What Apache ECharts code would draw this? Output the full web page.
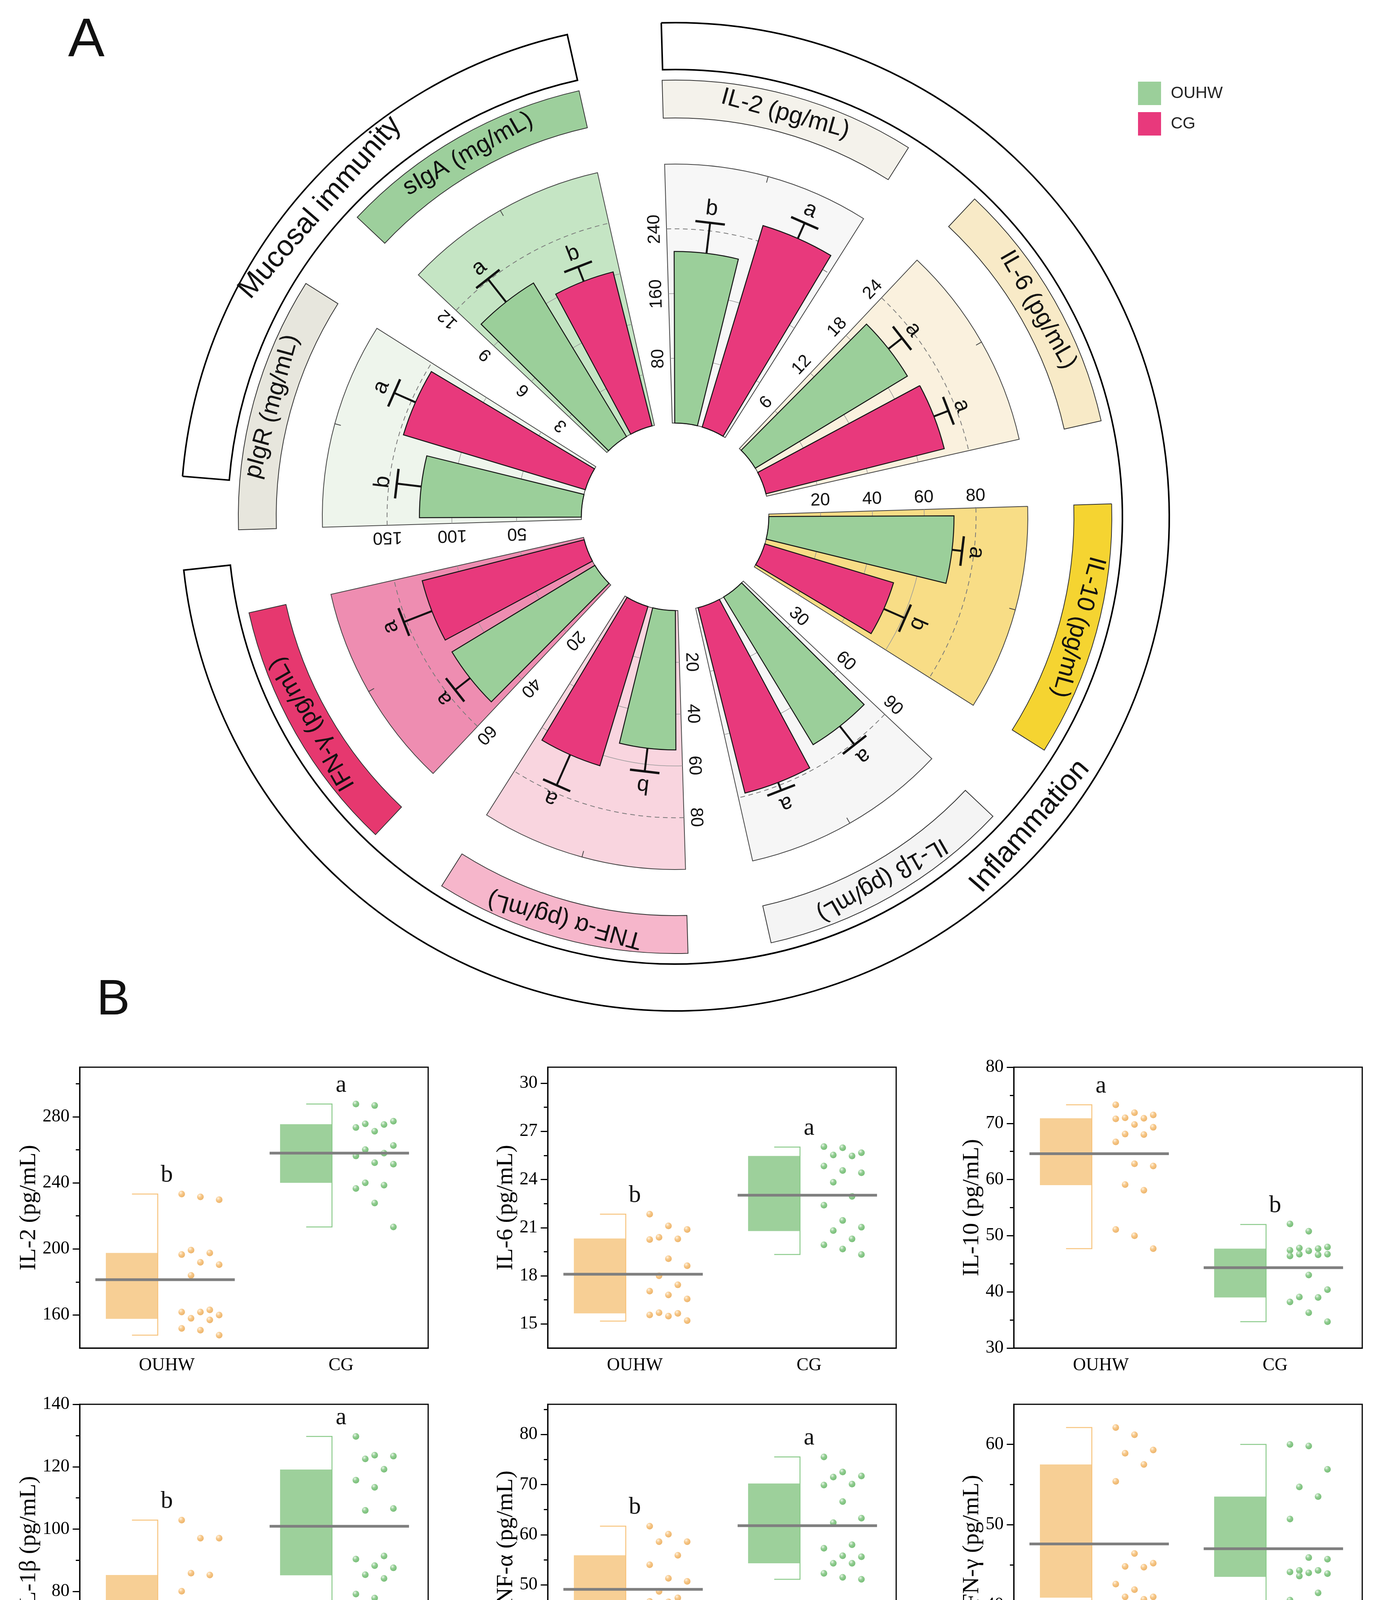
<!DOCTYPE html>
<html>
<head>
<meta charset="utf-8">
<title>Mucosal immunity and inflammation markers</title>
<script src="https://cdn.jsdelivr.net/npm/echarts@6.0.0/dist/echarts.min.js"></script>
<style>
  html, body { margin: 0; padding: 0; background: #fff; }
  #main { width: 3535px; height: 4415px; }
</style>
</head>
<body>
<div id="main"></div>
<script>
// ---------- panel A data (one sector per marker, clockwise from 12 o'clock)
var sectorNames = ['IL-2 (pg/mL)', 'IL-6 (pg/mL)', 'IL-10 (pg/mL)', 'IL-1β (pg/mL)',
                   'TNF-α (pg/mL)', 'IFN-γ (pg/mL)', 'pIgR (mg/mL)', 'sIgA (mg/mL)'];
var sectorMax  = [320, 30, 100, 120, 100, 80, 200, 15];
var sectorStep = [80, 6, 20, 30, 20, 20, 50, 3];
var meanOUHW = [212, 20.6, 71.5, 80.0, 53.8, 51.6, 125, 10.4];
var errOUHW  = [38, 2.0, 3.9, 11.0, 9.0, 5.9, 19, 1.7];
var meanCG   = [260, 21.3, 51.9, 88.6, 64.2, 51.6, 146.7, 9.2];
var errCG    = [21, 1.8, 8.9, 3.9, 12.9, 9.3, 18, 0.9];
var letterOUHW = ['b', 'a', 'a', 'a', 'b', 'a', 'b', 'a'];
var letterCG   = ['a', 'a', 'b', 'a', 'a', 'a', 'a', 'b'];
var groupNames = ['Inflammation', 'Mucosal immunity'];

// ---------- panel B data
var panelNames = ['IL-2 (pg/mL)', 'IL-6 (pg/mL)', 'IL-10 (pg/mL)', 'IL-1β (pg/mL)', 'TNF-α (pg/mL)', 'IFN-γ (pg/mL)'];
var groupsB = ['OUHW', 'CG'];
var panelMin = [140, 13.5, 30, 50, 30, 30];
var panelMax = [310, 31, 80, 140, 86, 65];
var majorTicks = [[160, 200, 240, 280], [15, 18, 21, 24, 27, 30], [30, 40, 50, 60, 70, 80],
                  [60, 80, 100, 120, 140], [30, 40, 50, 60, 70, 80], [30, 40, 50, 60]];
var minorTicks = [[180, 220, 260, 300], [16.5, 19.5, 22.5, 25.5, 28.5], [35, 45, 55, 65, 75],
                  [70, 90, 110, 130], [35, 45, 55, 65, 75, 85], [35, 45, 55]];

var boxLowOUHW    = [157.7, 15.66, 59.0, 64.2, 43.3, 40.9];
var boxHighOUHW   = [197.6, 20.33, 70.9, 85.3, 55.9, 57.5];
var whiskLowOUHW  = [147.8, 15.18, 47.7, 57.2, 35.1, 36.0];
var whiskHighOUHW = [233.2, 21.84, 73.3, 102.9, 61.7, 62.1];
var centerOUHW    = [181.4, 18.10, 64.6, 74.2, 49.1, 47.6];
var boxLowCG      = [240.0, 20.79, 39.0, 85.2, 54.3, 43.5];
var boxHighCG     = [275.5, 25.47, 47.7, 119.1, 70.2, 53.5];
var whiskLowCG    = [213.3, 19.33, 34.7, 71.8, 51.1, 36.0];
var whiskHighCG   = [287.7, 26.02, 52.0, 129.7, 75.5, 60.0];
var centerCG      = [258.0, 23.02, 44.3, 100.9, 61.8, 47.0];
var sigOUHW = ['b', 'b', 'a', 'b', 'b', ''];
var sigCG   = ['a', 'a', 'b', 'a', 'a', ''];

var il2OUHW  = [229.8, 233.2, 231.5, 199.3, 196.6, 197.6, 190.5, 191.9, 184.0, 161.8, 163.1, 161.8, 160.0, 158.0, 157.0, 151.9, 150.8, 147.8];
var il2CG    = [286.8, 287.7, 277.3, 275.7, 273.5, 271.2, 275.3, 262.6, 260.1, 258.0, 256.3, 252.2, 251.3, 238.6, 240.0, 236.6, 227.8, 213.3];
var il6OUHW  = [21.84, 20.89, 21.11, 20.40, 20.26, 20.30, 19.07, 18.63, 18.00, 17.44, 17.05, 16.81, 16.56, 15.56, 15.49, 15.70, 15.66, 15.21];
var il6CG    = [25.98, 26.05, 25.47, 25.53, 25.67, 24.84, 24.56, 24.42, 23.83, 22.95, 22.40, 21.45, 21.03, 20.82, 20.30, 19.93, 19.67, 19.33];
var il10OUHW = [73.3, 70.8, 71.0, 71.5, 71.9, 70.9, 69.8, 69.3, 68.1, 68.0, 66.7, 62.8, 62.4, 59.1, 58.1, 51.1, 50.0, 47.7];
var il10CG   = [52.1, 50.8, 47.8, 48.0, 47.7, 47.4, 47.3, 46.7, 46.6, 46.4, 46.7, 43.0, 40.4, 39.1, 39.0, 38.2, 36.3, 34.7];
var il1bOUHW = [102.9, 97.1, 97.1, 85.9, 85.3, 80.1, 74.2, 72.8, 72.0, 68.8, 68.1, 65.5, 64.2, 65.3, 63.7, 58.2, 57.2, 57.4];
var il1bCG   = [129.7, 123.7, 123.4, 122.5, 119.2, 115.7, 113.4, 106.0, 106.6, 91.4, 90.4, 87.6, 88.3, 85.4, 84.2, 79.2, 77.9, 71.8];
var tnfOUHW  = [61.7, 60.1, 58.6, 58.6, 55.9, 54.0, 51.3, 50.7, 48.7, 47.4, 46.6, 46.7, 44.4, 43.4, 43.1, 40.7, 37.6, 35.1];
var tnfCG    = [75.5, 72.5, 71.7, 71.5, 69.9, 70.1, 66.6, 63.3, 62.4, 58.0, 57.3, 55.8, 55.6, 54.3, 54.3, 52.3, 51.1, 51.5];
var ifnOUHW  = [62.1, 61.2, 59.3, 58.9, 57.5, 55.4, 46.4, 45.2, 44.7, 44.8, 42.6, 41.9, 40.7, 41.0, 41.0, 39.1, 39.0, 36.0];
var ifnCG    = [60.0, 59.8, 56.9, 54.7, 53.5, 50.7, 45.7, 45.9, 44.3, 44.3, 43.6, 44.0, 43.9, 44.1, 41.5, 40.6, 37.1, 36.0];
var pointsOUHW = [il2OUHW, il6OUHW, il10OUHW, il1bOUHW, tnfOUHW, ifnOUHW];
var pointsCG   = [il2CG, il6CG, il10CG, il1bCG, tnfCG, ifnCG];

// ---------- layout / style
var SANS = '"Liberation Sans", Arial, Helvetica, sans-serif';
var SERIF = '"Liberation Serif", "Times New Roman", Times, serif';
var CX = 1728, CY = 1323, R_IN = 240, R_OUT = 903;
var FIRST = -1.7, PERIOD = 45, SPAN = 34, CAT = 17, BAR = 14;   // degrees
var BAND_R = [1021, 1118], BRACKET_R = [1145, 1265];
var BRACKET_ANG = [[-1.6, 263.8], [274.7, 347.4]];
var CAP_LEN = 76, LETTER_GAP = 36;
var C_OUHW = '#9BCF9A', C_CG = '#E8397C';
var sectorBg = ['#F7F7F7', '#FAF1DE', '#F8DD86', '#F6F6F6', '#F9D5DF', '#EE8DB1', '#EEF5EC', '#C5E5C4'];
var bandFill = ['#F4F2EB', '#F8EAC7', '#F5D431', '#F4F4F4', '#F6B6CB', '#E6386F', '#E7E6DD', '#9DCF9C'];

var GRID_LEFT = [204, 1402, 2595], GRID_TOP = [2732, 3595], GRID_W = 892, GRID_H = 719;
var NAME_GAP = [100, 77, 77, 100, 77, 77];
var BOX_LEFT = -0.35, BOX_RIGHT = -0.052, CAP_LEFT = -0.2, MEAN_LEFT = -0.41, MEAN_RIGHT = 0.39;
var SWARM_COLS = [38, 62, 86, 110, 134], DOT_R = 8.5;
var B_FILL = ['#F7CF95', '#9DD09B'], B_LINE = ['#F7C47E', '#8CCB8C'];
var B_DOT = [['#FFF5E4', '#F7C88A', '#EDB56C'], ['#EEF8EE', '#92CD92', '#79BF79']];

function rad(d) { return d * Math.PI / 180; }
function norm180(d) { while (d > 180) d -= 360; while (d <= -180) d += 360; return d; }
function at(r, th) { return [CX + r * Math.sin(rad(th)), CY - r * Math.cos(rad(th))]; }
function ring(r0, r1, th0, th1) {
  return { cx: CX, cy: CY, r0: r0, r: r1, startAngle: rad(th0 - 90), endAngle: rad(th1 - 90), clockwise: true };
}
function label(x, y, rot, text, size, family) {
  return { type: 'text', x: x, y: y, rotation: rot, silent: true,
    style: { text: text, fontSize: size, fontFamily: family, fill: '#111',
      textAlign: 'center', textVerticalAlign: 'middle', align: 'center', verticalAlign: 'middle' } };
}
function polarPt(api, cs, v, a) {
  var p = api.coord([v, a]);
  var dx = p[0] - cs.cx, dy = p[1] - cs.cy;
  return { x: p[0], y: p[1], r: Math.sqrt(dx * dx + dy * dy), ang: Math.atan2(dy, dx) };
}
function arcAngles(p0, p1) {
  var a0 = p0.ang, a1 = p1.ang;
  if (a1 < a0) a1 += 2 * Math.PI;
  return [a0, a1];
}

// sector background, grid arcs and the category tick on the rim
function renderBg(k) {
  return function (params, api) {
    var cs = params.coordSys;
    var max = api.value(0), span = api.value(1);
    var base = polarPt(api, cs, 0, 0);
    var ang = arcAngles(polarPt(api, cs, max, 0), polarPt(api, cs, max, span));
    var outer = polarPt(api, cs, max, 0);
    var kids = [{ type: 'sector',
      shape: { cx: cs.cx, cy: cs.cy, r0: base.r, r: outer.r, startAngle: ang[0], endAngle: ang[1], clockwise: true },
      style: { fill: sectorBg[k], stroke: '#444', lineWidth: 2 } }];
    var step = sectorStep[k];
    for (var t = step; t < max - 1e-9; t += step) {
      var last = t + step > max - 1e-9;
      var g = polarPt(api, cs, t, 0);
      kids.push({ type: 'arc',
        shape: { cx: cs.cx, cy: cs.cy, r: g.r, startAngle: ang[0], endAngle: ang[1], clockwise: true },
        style: { fill: null, stroke: last ? '#7A7A7A' : '#9A9A9A', lineWidth: last ? 2 : 1.5, lineDash: last ? [12, 9] : null } });
    }
    var mid = polarPt(api, cs, max, span / 2);
    var ux = (mid.x - cs.cx) / mid.r, uy = (mid.y - cs.cy) / mid.r;
    kids.push({ type: 'line', shape: { x1: mid.x, y1: mid.y, x2: mid.x - ux * 16, y2: mid.y - uy * 16 },
      style: { stroke: '#444', lineWidth: 2 } });
    return { type: 'group', children: kids };
  };
}

// one radial bar with error bar and significance letter
function renderBar(letter) {
  return function (params, api) {
    var cs = params.coordSys;
    var v = api.value(0), a = api.value(1), e = api.value(2);
    var base = polarPt(api, cs, 0, a);
    var top = polarPt(api, cs, v, a);
    var ang = arcAngles(polarPt(api, cs, v, a - BAR / 2), polarPt(api, cs, v, a + BAR / 2));
    var tip = polarPt(api, cs, v + e, a);
    var ux = (tip.x - cs.cx) / tip.r, uy = (tip.y - cs.cy) / tip.r;
    var h = CAP_LEN / 2;
    return { type: 'group', children: [
      { type: 'sector',
        shape: { cx: cs.cx, cy: cs.cy, r0: base.r, r: top.r, startAngle: ang[0], endAngle: ang[1], clockwise: true },
        style: { fill: api.visual('color'), stroke: '#151515', lineWidth: 2.5 } },
      { type: 'line', shape: { x1: top.x, y1: top.y, x2: tip.x, y2: tip.y }, style: { stroke: '#111', lineWidth: 5 } },
      { type: 'line', shape: { x1: tip.x + uy * h, y1: tip.y - ux * h, x2: tip.x - uy * h, y2: tip.y + ux * h },
        style: { stroke: '#111', lineWidth: 6 } },
      label(tip.x + ux * LETTER_GAP, tip.y + uy * LETTER_GAP, Math.atan2(-ux, -uy), letter, 56, SANS)
    ] };
  };
}

// panel B pieces
function renderBox(params, api) {
  var g = api.value(0);
  var bw = api.size([1, 0])[0];
  var yLo = api.coord([g, api.value(1)]), yHi = api.coord([g, api.value(2)]);
  var wLo = api.coord([g, api.value(3)])[1], wHi = api.coord([g, api.value(4)])[1];
  var cx = yLo[0], xr = cx + BOX_RIGHT * bw, xc = cx + CAP_LEFT * bw;
  return { type: 'group', children: [
    { type: 'rect', shape: { x: cx + BOX_LEFT * bw, y: yHi[1], width: (BOX_RIGHT - BOX_LEFT) * bw, height: yLo[1] - yHi[1] },
      style: { fill: B_FILL[g] } },
    { type: 'polyline', shape: { points: [[xc, wHi], [xr, wHi], [xr, wLo], [xc, wLo]] },
      style: { fill: null, stroke: B_LINE[g], lineWidth: 2.5 } }
  ] };
}
function renderDot(params, api) {
  var g = api.value(0);
  var pt = api.coord([g, api.value(1)]);
  var c = B_DOT[g];
  return { type: 'circle', shape: { cx: pt[0] + api.value(2), cy: pt[1], r: DOT_R },
    style: { fill: new echarts.graphic.RadialGradient(0.35, 0.3, 0.7, [
      { offset: 0, color: c[0] }, { offset: 0.45, color: c[1] }, { offset: 1, color: c[2] }]) } };
}
function renderCenter(p) {
  return function (params, api) {
    var g = api.value(0), bw = api.size([1, 0])[0];
    var pt = api.coord([g, api.value(1)]);
    var wHi = api.coord([g, api.value(2)])[1];
    var kids = [{ type: 'line', shape: { x1: pt[0] + MEAN_LEFT * bw, y1: pt[1], x2: pt[0] + MEAN_RIGHT * bw, y2: pt[1] },
      style: { stroke: '#7F7F7F', lineWidth: 7 } }];
    var s = (g === 0 ? sigOUHW : sigCG)[p];
    if (s) kids.push(label(pt[0], wHi - 48, 0, s, 62, SERIF));
    return { type: 'group', children: kids };
  };
}

// simple column swarm so the dots do not sit on top of each other
function swarm(vals, pxPerUnit) {
  var placed = SWARM_COLS.map(function () { return []; });
  var out = [];
  var order = vals.map(function (v, i) { return i; }).sort(function (a, b) { return vals[b] - vals[a]; });
  order.forEach(function (idx, n) {
    var y = vals[idx] * pxPerUnit, best = 0, bestGap = -1;
    for (var t = 0; t < SWARM_COLS.length; t++) {
      var c = (n * 2 + t) % SWARM_COLS.length;
      var gap = placed[c].reduce(function (m, py) { return Math.min(m, Math.abs(py - y)); }, Infinity);
      if (gap >= 2 * DOT_R + 3) { best = c; break; }
      if (gap > bestGap) { bestGap = gap; best = c; }
    }
    placed[best].push(y);
    out[idx] = SWARM_COLS[best];
  });
  return out;
}

// ---------- build option
var polar = [], angleAxis = [], radiusAxis = [], series = [];
sectorNames.forEach(function (name, k) {
  var start = norm180(90 - (FIRST + PERIOD * k));
  polar.push({ center: [CX, CY], radius: [R_IN, R_OUT] });
  angleAxis.push({ polarIndex: k, type: 'value', min: 0, max: 360, startAngle: start, clockwise: true, show: false });
  radiusAxis.push({ polarIndex: k, type: 'value', min: 0, max: sectorMax[k], interval: sectorStep[k],
    axisLine: { show: false }, axisTick: { show: false }, splitLine: { show: false },
    axisLabel: { rotate: start, fontSize: 45, fontFamily: SANS, color: '#111', margin: 8,
      showMinLabel: false, showMaxLabel: false } });
  series.push({ type: 'custom', name: 'bg' + k, coordinateSystem: 'polar', polarIndex: k, z: 1, silent: true,
    data: [[sectorMax[k], SPAN]], renderItem: renderBg(k) });
  series.push({ type: 'custom', name: 'OUHW', coordinateSystem: 'polar', polarIndex: k, z: 3, silent: true,
    itemStyle: { color: C_OUHW }, data: [[meanOUHW[k], CAT * 0.5, errOUHW[k]]], renderItem: renderBar(letterOUHW[k]) });
  series.push({ type: 'custom', name: 'CG', coordinateSystem: 'polar', polarIndex: k, z: 3, silent: true,
    itemStyle: { color: C_CG }, data: [[meanCG[k], CAT * 1.5, errCG[k]]], renderItem: renderBar(letterCG[k]) });
});

var grids = [], xAxes = [], yAxes = [];
panelNames.forEach(function (name, p) {
  var row = Math.floor(p / 3), col = p % 3;
  var ppu = GRID_H / (panelMax[p] - panelMin[p]);
  grids.push({ left: GRID_LEFT[col], top: GRID_TOP[row], width: GRID_W, height: GRID_H,
    show: true, borderColor: '#000', borderWidth: 3, backgroundColor: 'rgba(0,0,0,0)' });
  xAxes.push({ type: 'category', gridIndex: p, data: groupsB,
    axisLine: { lineStyle: { color: '#000', width: 3 } },
    axisTick: { alignWithLabel: true, length: 14, lineStyle: { color: '#000', width: 3 } },
    axisLabel: { fontSize: 46, fontFamily: SERIF, color: '#000', margin: 22 } });
  yAxes.push({ type: 'value', gridIndex: p, position: 'left', min: panelMin[p], max: panelMax[p],
    name: name, nameLocation: 'middle', nameGap: NAME_GAP[p],
    nameTextStyle: { fontSize: 60, fontFamily: SERIF, color: '#000' },
    axisLine: { show: true, lineStyle: { color: '#000', width: 3 } },
    axisTick: { show: true, length: 18, customValues: majorTicks[p], lineStyle: { color: '#000', width: 3 } },
    axisLabel: { customValues: majorTicks[p], fontSize: 46, fontFamily: SERIF, color: '#000', margin: 26 },
    splitLine: { show: false } });
  yAxes.push({ type: 'value', gridIndex: p, position: 'left', min: panelMin[p], max: panelMax[p],
    axisLine: { show: false },
    axisTick: { show: true, length: 10, customValues: minorTicks[p], lineStyle: { color: '#000', width: 3 } },
    axisLabel: { show: false }, splitLine: { show: false } });

  var yi = 2 * p;
  series.push({ type: 'custom', name: 'box' + p, xAxisIndex: p, yAxisIndex: yi, z: 2, silent: true,
    data: [[0, boxLowOUHW[p], boxHighOUHW[p], whiskLowOUHW[p], whiskHighOUHW[p]],
           [1, boxLowCG[p], boxHighCG[p], whiskLowCG[p], whiskHighCG[p]]],
    renderItem: renderBox });
  var dots = [];
  [pointsOUHW[p], pointsCG[p]].forEach(function (vals, g) {
    var off = swarm(vals, ppu);
    vals.forEach(function (v, i) { dots.push([g, v, off[i]]); });
  });
  series.push({ type: 'custom', name: 'points' + p, xAxisIndex: p, yAxisIndex: yi, z: 3, silent: true,
    data: dots, renderItem: renderDot });
  series.push({ type: 'custom', name: 'mean' + p, xAxisIndex: p, yAxisIndex: yi, z: 4, silent: true,
    data: [[0, centerOUHW[p], whiskHighOUHW[p]], [1, centerCG[p], whiskHighCG[p]]],
    renderItem: renderCenter(p) });
});

// ring decorations of panel A: marker bands, group brackets, titles
var graphics = [];
sectorNames.forEach(function (name, k) {
  var t0 = FIRST + PERIOD * k, tm = t0 + SPAN / 2;
  graphics.push({ type: 'sector', silent: true, shape: ring(BAND_R[0], BAND_R[1], t0, t0 + SPAN),
    style: { fill: bandFill[k], stroke: '#333', lineWidth: 2 } });
  var p = at((BAND_R[0] + BAND_R[1]) / 2, tm);
  graphics.push(label(p[0], p[1], -rad(tm), name, 62, SANS));
});
groupNames.forEach(function (name, i) {
  var a = BRACKET_ANG[i], tm = (a[0] + a[1]) / 2;
  graphics.push({ type: 'sector', silent: true, shape: ring(BRACKET_R[0], BRACKET_R[1], a[0], a[1]),
    style: { fill: '#fff', stroke: '#000', lineWidth: 4 } });
  var p = at((BRACKET_R[0] + BRACKET_R[1]) / 2, tm);
  var rot = norm180(-tm);
  if (rot > 90 || rot < -90) rot = norm180(rot + 180);
  graphics.push(label(p[0], p[1], rad(rot), name, 74, SANS));
});
graphics.push(label(221, 105, 0, 'A', 140, SANS));
graphics.push(label(290, 2562, 0, 'B', 128, SANS));

var chart = echarts.init(document.getElementById('main'), null, { renderer: 'canvas' });
chart.setOption({
  backgroundColor: '#ffffff',
  animation: false,
  legend: {
    left: 2908, top: 204, orient: 'vertical', icon: 'rect', itemWidth: 59, itemHeight: 60, itemGap: 18,
    selectedMode: false, data: ['OUHW', 'CG'], itemStyle: { borderWidth: 0 },
    textStyle: { fontSize: 42, fontFamily: SANS, color: '#222', padding: [0, 0, 0, 20] }
  },
  polar: polar,
  angleAxis: angleAxis,
  radiusAxis: radiusAxis,
  grid: grids,
  xAxis: xAxes,
  yAxis: yAxes,
  graphic: { elements: graphics },
  series: series
});
</script>
</body>
</html>
